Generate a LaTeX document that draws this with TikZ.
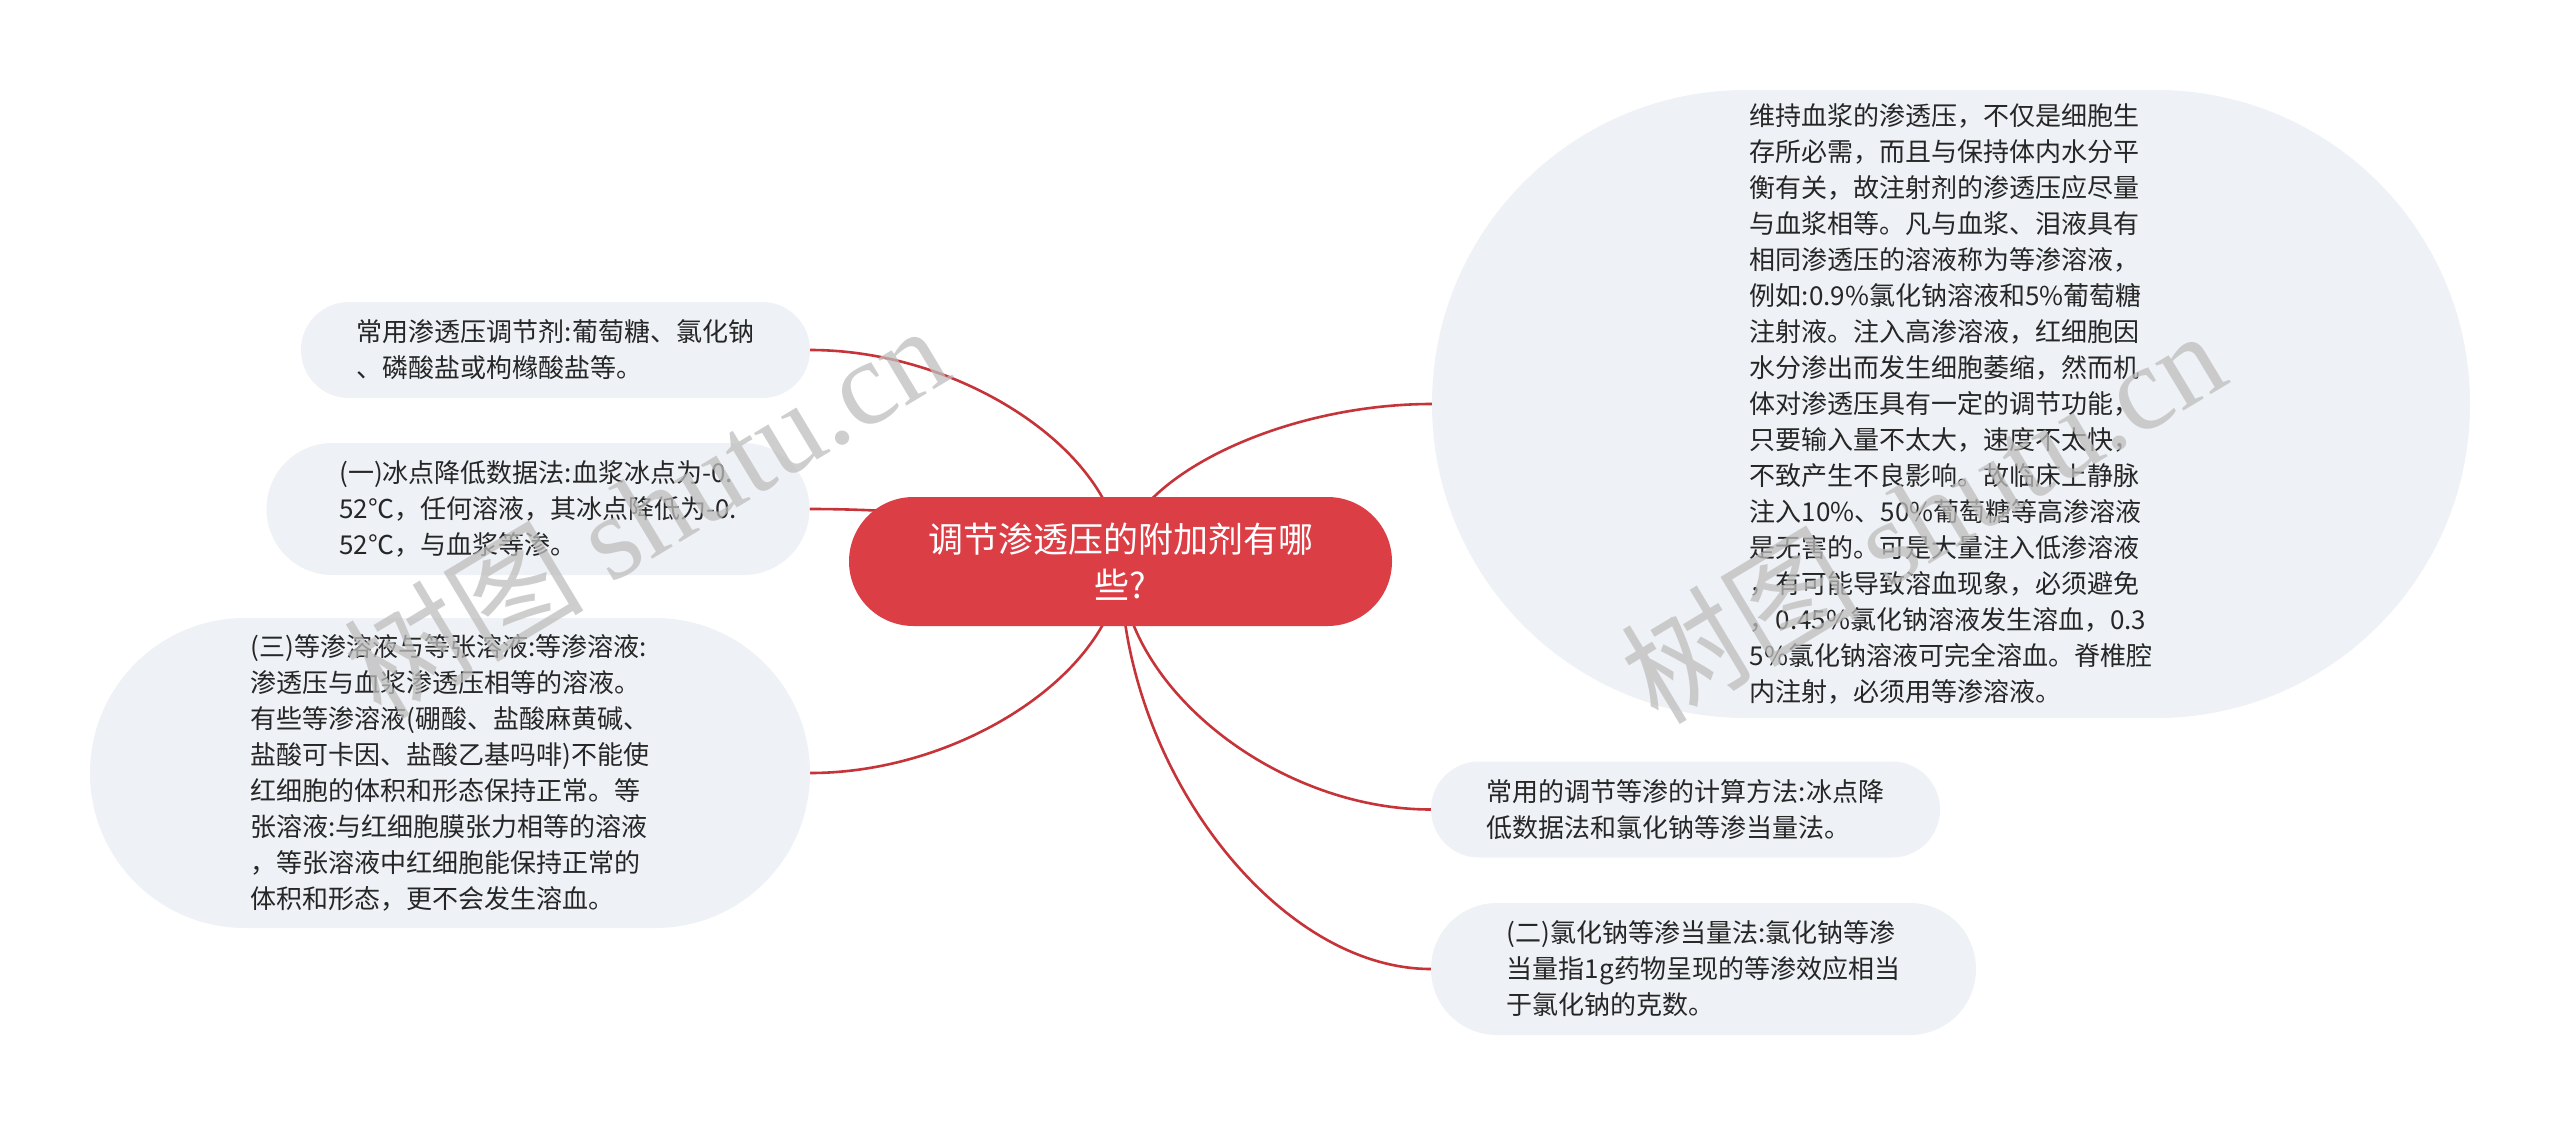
\documentclass[tikz,border=0pt]{standalone}
\usepackage{fontspec}
\setmainfont{Noto Sans CJK SC}
\newfontfamily\wmlatin{Liberation Serif}
\usetikzlibrary{shapes.misc,backgrounds}
\definecolor{nodefill}{RGB}{238,241,245}
\definecolor{mainred}{RGB}{220,62,70}
\definecolor{linered}{RGB}{198,52,58}
\definecolor{txt}{RGB}{38,38,38}
\definecolor{wm}{RGB}{190,190,190}
\begin{document}
\begin{tikzpicture}[x=1pt,y=-1pt,
  leaf/.style={rounded rectangle, fill=nodefill, inner sep=0pt, align=left, text=txt,
    font=\fontsize{26}{36}\selectfont},
  root/.style={rounded rectangle, fill=mainred, inner sep=0pt, align=center, text=white,
    font=\fontsize{35}{46}\selectfont},
  conn/.style={draw=linered, line width=2.6pt},
  wmark/.style={rotate=31, text=wm, opacity=0.75, font=\fontsize{120}{130}\selectfont}]
\useasboundingbox (0,0) rectangle (2560,1124);

\node[root, minimum width=543pt, minimum height=129pt] (ctr) at (1120.5,561.5)
  {调节渗透压的附加剂有哪\\些?};

\node[leaf, minimum width=1038pt, minimum height=628pt] (big) at (1951,404)
  {维持血浆的渗透压，不仅是细胞生\\
   存所必需，而且与保持体内水分平\\
   衡有关，故注射剂的渗透压应尽量\\
   与血浆相等。凡与血浆、泪液具有\\
   相同渗透压的溶液称为等渗溶液，\\
   例如:0.9\%氯化钠溶液和5\%葡萄糖\\
   注射液。注入高渗溶液，红细胞因\\
   水分渗出而发生细胞萎缩，然而机\\
   体对渗透压具有一定的调节功能，\\
   只要输入量不太大，速度不太快，\\
   不致产生不良影响。故临床上静脉\\
   注入10\%、50\%葡萄糖等高渗溶液\\
   是无害的。可是大量注入低渗溶液\\
   ，有可能导致溶血现象，必须避免\\
   ，0.45\%氯化钠溶液发生溶血，0.3\\
   5\%氯化钠溶液可完全溶血。脊椎腔\\
   内注射，必须用等渗溶液。};

\node[leaf, minimum width=509pt, minimum height=96pt] (n1) at (555.5,350)
  {常用渗透压调节剂:葡萄糖、氯化钠\\、磷酸盐或枸橼酸盐等。};

\node[leaf, minimum width=543pt, minimum height=132pt] (n2) at (538,509)
  {(一)冰点降低数据法:血浆冰点为-0.\\52℃，任何溶液，其冰点降低为-0.\\52℃，与血浆等渗。};

\node[leaf, minimum width=720pt, minimum height=310pt] (n3) at (450,773)
  {(三)等渗溶液与等张溶液:等渗溶液:\\
   渗透压与血浆渗透压相等的溶液。\\
   有些等渗溶液(硼酸、盐酸麻黄碱、\\
   盐酸可卡因、盐酸乙基吗啡)不能使\\
   红细胞的体积和形态保持正常。等\\
   张溶液:与红细胞膜张力相等的溶液\\
   ，等张溶液中红细胞能保持正常的\\
   体积和形态，更不会发生溶血。};

\node[leaf, minimum width=509pt, minimum height=96pt] (n4) at (1685.5,809.5)
  {常用的调节等渗的计算方法:冰点降\\低数据法和氯化钠等渗当量法。};

\node[leaf, minimum width=545pt, minimum height=132pt] (n5) at (1703.5,969)
  {(二)氯化钠等渗当量法:氯化钠等渗\\当量指1g药物呈现的等渗效应相当\\于氯化钠的克数。};

\begin{pgfonlayer}{background}
  \fill[white] (0,0) rectangle (2560,1124);
  \foreach \n/\a in {n1/east, n2/east, n3/east, big/west, n4/west, n5/west} {
    \path (\n.\a) -- coordinate[pos=0.5] (m-\n) (ctr.center);
    \draw[conn] (\n.\a) .. controls (m-\n |- \n.\a) and (ctr.center |- m-\n) .. (ctr.center);
  }
\end{pgfonlayer}

\node[wmark] (wm1) at (645,510) {树图 {\wmlatin shutu.cn}};
\node[wmark] (wm2) at (1922,515) {树图 {\wmlatin shutu.cn}};
\end{tikzpicture}
\end{document}
